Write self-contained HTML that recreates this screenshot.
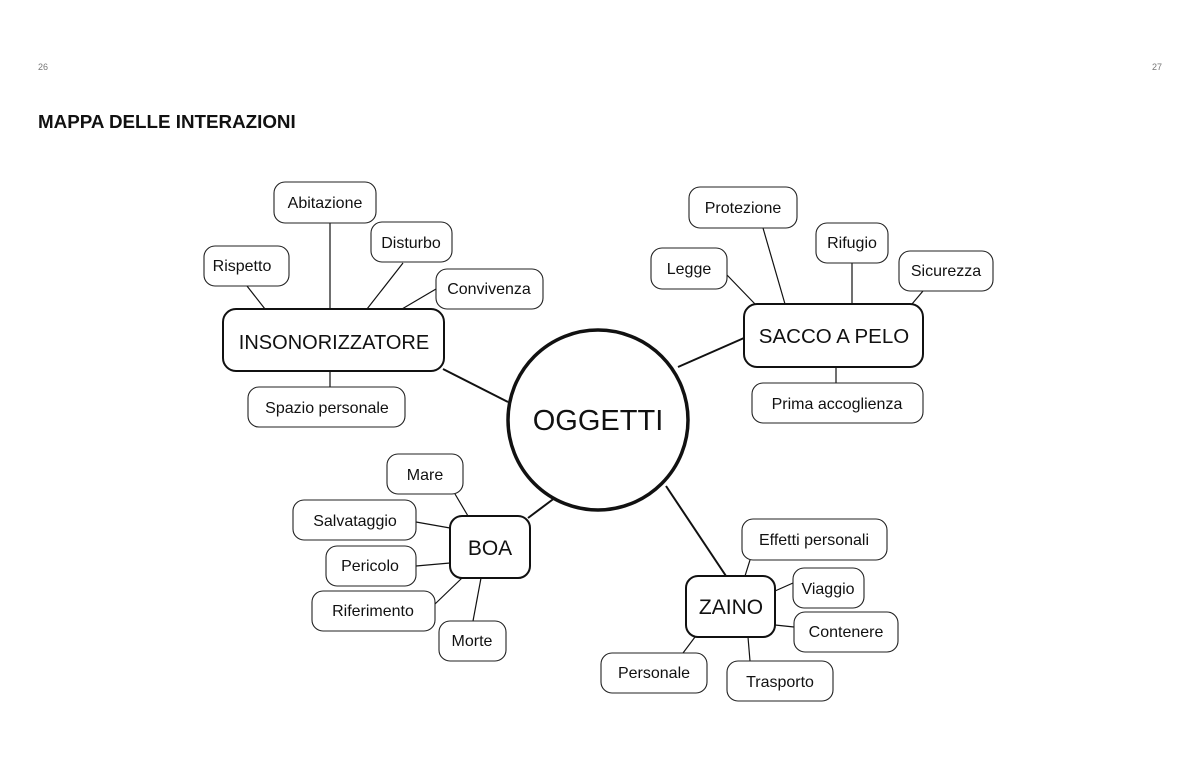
<!DOCTYPE html>
<html><head><meta charset="utf-8"><style>
body{margin:0;background:#fff;}
svg{display:block}
text{font-family:"Liberation Sans",sans-serif;fill:#111}
</style></head><body>
<svg width="1200" height="780" viewBox="0 0 1200 780">
<text x="38" y="70" font-size="9" style="fill:#777">26</text>
<text x="1152" y="70" font-size="9" style="fill:#777">27</text>
<text x="38" y="128" font-size="18.8" font-weight="bold">MAPPA DELLE INTERAZIONI</text>
<g stroke="#111" stroke-width="1.2" fill="none">
<line x1="247" y1="286" x2="265" y2="309"/>
<line x1="330" y1="223" x2="330" y2="309"/>
<line x1="403" y1="263" x2="367" y2="309"/>
<line x1="436" y1="289" x2="402" y2="309"/>
<line x1="330" y1="371" x2="330" y2="387"/>
<line x1="727" y1="275" x2="755" y2="304"/>
<line x1="763" y1="228" x2="785" y2="304"/>
<line x1="852" y1="263" x2="852" y2="304"/>
<line x1="923" y1="291" x2="912" y2="304"/>
<line x1="836" y1="367" x2="836" y2="383"/>
<line x1="455" y1="494" x2="468" y2="516"/>
<line x1="416" y1="522" x2="450" y2="528"/>
<line x1="416" y1="566" x2="450" y2="563"/>
<line x1="435" y1="604" x2="462" y2="578"/>
<line x1="473" y1="621" x2="481" y2="578"/>
<line x1="750" y1="560" x2="745" y2="576"/>
<line x1="793" y1="583" x2="775" y2="591"/>
<line x1="794" y1="627" x2="775" y2="625"/>
<line x1="683" y1="653" x2="695" y2="637"/>
<line x1="750" y1="661" x2="748" y2="637"/>
</g>
<g stroke="#111" stroke-width="2" fill="none">
<line x1="443" y1="369" x2="508" y2="402"/>
<line x1="678" y1="367" x2="744" y2="338"/>
<line x1="528" y1="518" x2="556" y2="497"/>
<line x1="666" y1="486" x2="726" y2="576"/>
<circle cx="598" cy="420" r="90" stroke-width="3.5" fill="#fff"/>
<rect x="223" y="309" width="221" height="62" rx="13" fill="#fff"/>
<rect x="744" y="304" width="179" height="63" rx="13" fill="#fff"/>
<rect x="450" y="516" width="80" height="62" rx="12" fill="#fff"/>
<rect x="686" y="576" width="89" height="61" rx="12" fill="#fff"/>
</g>
<g stroke="#222" stroke-width="1.1" fill="#fff">
<rect x="274" y="182" width="102" height="41" rx="11"/>
<rect x="371" y="222" width="81" height="40" rx="11"/>
<rect x="204" y="246" width="85" height="40" rx="11"/>
<rect x="436" y="269" width="107" height="40" rx="11"/>
<rect x="248" y="387" width="157" height="40" rx="11"/>
<rect x="689" y="187" width="108" height="41" rx="11"/>
<rect x="816" y="223" width="72" height="40" rx="11"/>
<rect x="651" y="248" width="76" height="41" rx="11"/>
<rect x="899" y="251" width="94" height="40" rx="11"/>
<rect x="752" y="383" width="171" height="40" rx="11"/>
<rect x="387" y="454" width="76" height="40" rx="11"/>
<rect x="293" y="500" width="123" height="40" rx="11"/>
<rect x="326" y="546" width="90" height="40" rx="11"/>
<rect x="312" y="591" width="123" height="40" rx="11"/>
<rect x="439" y="621" width="67" height="40" rx="11"/>
<rect x="742" y="519" width="145" height="41" rx="11"/>
<rect x="793" y="568" width="71" height="40" rx="11"/>
<rect x="794" y="612" width="104" height="40" rx="11"/>
<rect x="601" y="653" width="106" height="40" rx="11"/>
<rect x="727" y="661" width="106" height="40" rx="11"/>
</g>
<g text-anchor="middle" font-size="16">
<text x="325" y="208">Abitazione</text>
<text x="411" y="248">Disturbo</text>
<text x="242" y="271">Rispetto</text>
<text x="489" y="294">Convivenza</text>
<text x="327" y="413">Spazio personale</text>
<text x="743" y="213">Protezione</text>
<text x="852" y="248">Rifugio</text>
<text x="689" y="274">Legge</text>
<text x="946" y="276">Sicurezza</text>
<text x="837" y="409">Prima accoglienza</text>
<text x="425" y="480">Mare</text>
<text x="355" y="526">Salvataggio</text>
<text x="370" y="571">Pericolo</text>
<text x="373" y="616">Riferimento</text>
<text x="472" y="646">Morte</text>
<text x="814" y="545">Effetti personali</text>
<text x="828" y="594">Viaggio</text>
<text x="846" y="637">Contenere</text>
<text x="654" y="678">Personale</text>
<text x="780" y="687">Trasporto</text>
<text x="334" y="349" font-size="20">INSONORIZZATORE</text>
<text x="834" y="343" font-size="20.5">SACCO A PELO</text>
<text x="490" y="555" font-size="21">BOA</text>
<text x="731" y="614" font-size="21">ZAINO</text>
<text x="598" y="430" font-size="29">OGGETTI</text>
</g>
</svg>
</body></html>
